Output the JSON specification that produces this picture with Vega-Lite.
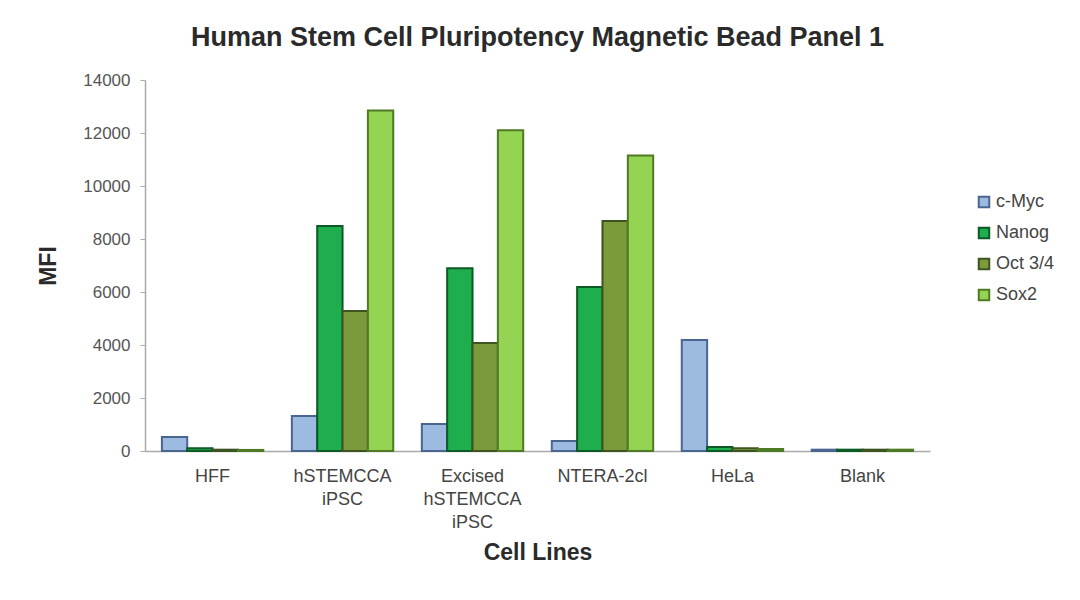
{
  "$schema": "https://vega.github.io/schema/vega-lite/v6.json",
  "autosize": "none",
  "width": 785,
  "height": 371,
  "padding": {"left": 145, "top": 80, "right": 150, "bottom": 149},
  "background": "white",
  "config": {
    "font": "Liberation Sans",
    "view": {"stroke": null}
  },
  "title": {
    "text": "Human Stem Cell Pluripotency Magnetic Bead Panel 1",
    "fontSize": 27,
    "fontWeight": "bold",
    "color": "#2a2a2a",
    "anchor": "middle",
    "offset": 19
  },
  "data": {
    "values": [
      {"cell": "HFF", "marker": "c-Myc", "MFI": 530},
      {"cell": "HFF", "marker": "Nanog", "MFI": 100},
      {"cell": "HFF", "marker": "Oct 3/4", "MFI": 50},
      {"cell": "HFF", "marker": "Sox2", "MFI": 40},
      {"cell": "hSTEMCCA iPSC", "marker": "c-Myc", "MFI": 1320},
      {"cell": "hSTEMCCA iPSC", "marker": "Nanog", "MFI": 8490},
      {"cell": "hSTEMCCA iPSC", "marker": "Oct 3/4", "MFI": 5280},
      {"cell": "hSTEMCCA iPSC", "marker": "Sox2", "MFI": 12850},
      {"cell": "Excised hSTEMCCA iPSC", "marker": "c-Myc", "MFI": 1020},
      {"cell": "Excised hSTEMCCA iPSC", "marker": "Nanog", "MFI": 6900},
      {"cell": "Excised hSTEMCCA iPSC", "marker": "Oct 3/4", "MFI": 4080},
      {"cell": "Excised hSTEMCCA iPSC", "marker": "Sox2", "MFI": 12100},
      {"cell": "NTERA-2cl", "marker": "c-Myc", "MFI": 380},
      {"cell": "NTERA-2cl", "marker": "Nanog", "MFI": 6190},
      {"cell": "NTERA-2cl", "marker": "Oct 3/4", "MFI": 8680},
      {"cell": "NTERA-2cl", "marker": "Sox2", "MFI": 11150},
      {"cell": "HeLa", "marker": "c-Myc", "MFI": 4190},
      {"cell": "HeLa", "marker": "Nanog", "MFI": 150},
      {"cell": "HeLa", "marker": "Oct 3/4", "MFI": 100},
      {"cell": "HeLa", "marker": "Sox2", "MFI": 80},
      {"cell": "Blank", "marker": "c-Myc", "MFI": 50},
      {"cell": "Blank", "marker": "Nanog", "MFI": 50},
      {"cell": "Blank", "marker": "Oct 3/4", "MFI": 50},
      {"cell": "Blank", "marker": "Sox2", "MFI": 50}
    ]
  },
  "mark": {"type": "bar", "strokeWidth": 2},
  "encoding": {
    "x": {
      "field": "cell",
      "type": "nominal",
      "sort": ["HFF", "hSTEMCCA iPSC", "Excised hSTEMCCA iPSC", "NTERA-2cl", "HeLa", "Blank"],
      "scale": {"paddingInner": 0.22, "paddingOuter": 0.13},
      "axis": {
        "title": "Cell Lines",
        "titleFontSize": 23,
        "titleFontWeight": "bold",
        "titleColor": "#2a2a2a",
        "titlePadding": 10,
        "labelAngle": 0,
        "labelFontSize": 18,
        "labelColor": "#444444",
        "labelPadding": 16,
        "labelLineHeight": 23,
        "labelExpr": "datum.label == 'hSTEMCCA iPSC' ? ['hSTEMCCA', 'iPSC'] : datum.label == 'Excised hSTEMCCA iPSC' ? ['Excised', 'hSTEMCCA', 'iPSC'] : datum.label",
        "ticks": false,
        "domainColor": "#aaaaaa",
        "domainWidth": 1.5
      }
    },
    "y": {
      "field": "MFI",
      "type": "quantitative",
      "scale": {"domain": [0, 14000]},
      "axis": {
        "title": "MFI",
        "titleFontSize": 23,
        "titleFontWeight": "bold",
        "titleColor": "#2a2a2a",
        "titlePadding": 22,
        "values": [0, 2000, 4000, 6000, 8000, 10000, 12000, 14000],
        "format": "d",
        "labelFontSize": 17,
        "labelColor": "#555555",
        "labelPadding": 10,
        "grid": false,
        "tickColor": "#aaaaaa",
        "tickSize": 5,
        "domainColor": "#aaaaaa",
        "domainWidth": 1.5
      }
    },
    "xOffset": {"field": "marker", "type": "nominal", "sort": ["c-Myc", "Nanog", "Oct 3/4", "Sox2"]},
    "color": {
      "field": "marker",
      "type": "nominal",
      "sort": ["c-Myc", "Nanog", "Oct 3/4", "Sox2"],
      "scale": {
        "domain": ["c-Myc", "Nanog", "Oct 3/4", "Sox2"],
        "range": ["#9dbbe0", "#1fae4e", "#7b9a3c", "#95d352"]
      },
      "legend": {
        "title": null,
        "orient": "none",
        "legendX": 830,
        "legendY": 113,
        "labelFontSize": 18,
        "labelColor": "#444444",
        "symbolType": "square",
        "symbolSize": 110,
        "symbolStrokeWidth": 2,
        "rowPadding": 11,
        "labelOffset": 3
      }
    },
    "stroke": {
      "field": "marker",
      "type": "nominal",
      "scale": {
        "domain": ["c-Myc", "Nanog", "Oct 3/4", "Sox2"],
        "range": ["#4a6590", "#0c5a26", "#3e5420", "#4f7a25"]
      },
      "legend": null
    }
  }
}
